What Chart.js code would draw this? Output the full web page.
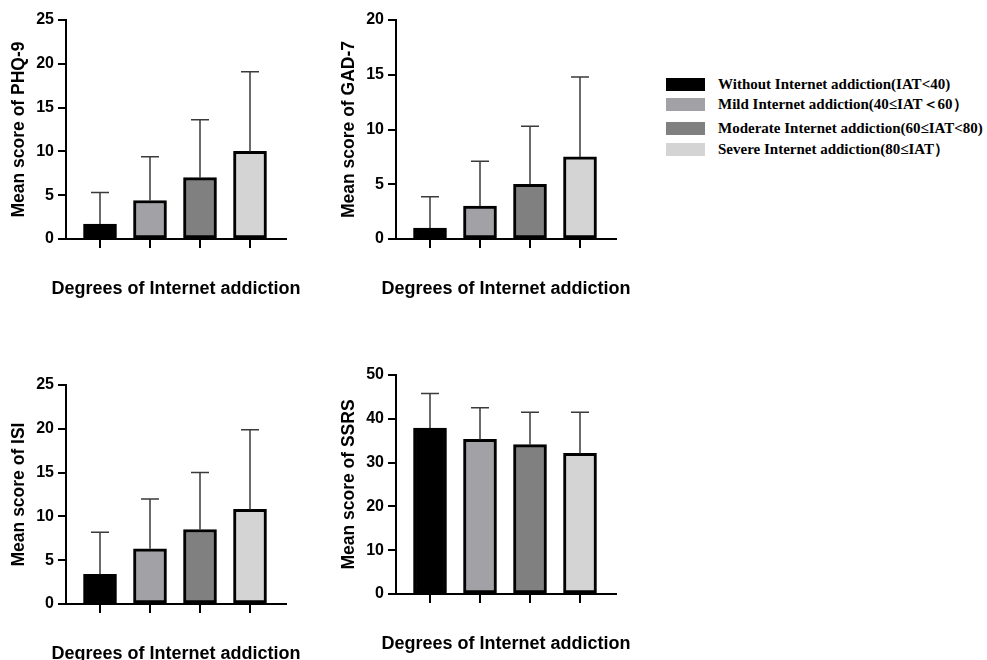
<!DOCTYPE html>
<html>
<head>
<meta charset="utf-8">
<script src="https://cdn.jsdelivr.net/npm/chart.js@4"></script>
<style>
  html, body { margin: 0; padding: 0; background: #fff; overflow: hidden; }
  body { width: 987px; height: 660px; position: relative; }
  canvas { position: absolute; }
  .legend { position: absolute; left: 666px; top: 0; font-family: "Liberation Serif", "Times New Roman", serif; font-weight: bold; font-size: 15px; color: #000; }
  .row { position: absolute; left: 0; white-space: nowrap; height: 13px; }
  .sw { position: absolute; left: 0; top: 0; width: 39px; height: 13px; }
  .txt { position: absolute; left: 52px; top: -3px; line-height: 18px; }
</style>
</head>
<body>
<canvas id="phq" width="320" height="300" style="left:0px;top:0px"></canvas>
<canvas id="gad" width="320" height="300" style="left:330px;top:0px"></canvas>
<canvas id="isi" width="320" height="300" style="left:0px;top:365px"></canvas>
<canvas id="ssrs" width="320" height="300" style="left:330px;top:355px"></canvas>
<div class="legend" id="legend"></div>
<script>
// groups
var categories = ['Without Internet addiction(IAT<40)', 'Mild Internet addiction(40≤IAT＜60）', 'Moderate Internet addiction(60≤IAT<80)', 'Severe Internet addiction(80≤IAT）']
var colores = ['#000000', '#a2a2a6', '#808080', '#d4d4d4']

// mean and SD
var phq9_mean = [1.7, 4.4, 7.0, 10.0]
var phq9_sd = [3.6, 5.0, 6.6, 9.1]
var gad7_mean = [1.0, 3.0, 5.0, 7.5]
var gad7_sd = [2.85, 4.1, 5.3, 7.3]
var isi_mean = [3.4, 6.3, 8.5, 10.8]
var isi_sd = [4.8, 5.7, 6.5, 9.1]
var ssrs_mean = [37.9, 35.3, 34.1, 32.1]
var ssrs_sd = [7.9, 7.2, 7.4, 9.4]

var xTitle = 'Degrees of Internet addiction'

Chart.defaults.font.family = '"Liberation Sans", Arial, sans-serif'
Chart.defaults.color = '#000'

// one-sided SD bars on top of each bar, plus the x title (scale title squeezes it)
var errorBars = {
    id: 'errorBars',
    afterDatasetsDraw: function(chart) {
        var ctx = chart.ctx
        var meta = chart.getDatasetMeta(0)
        var sd = chart.data.datasets[0].sd
        var y = chart.scales.y
        ctx.save()
        ctx.strokeStyle = '#3a3a3a'
        ctx.lineWidth = 1.5
        for (var i = 0; i < meta.data.length; i++) {
            var bar = meta.data[i]
            var top = y.getPixelForValue(chart.data.datasets[0].data[i].y + sd[i])
            ctx.beginPath()
            ctx.moveTo(bar.x, bar.y)
            ctx.lineTo(bar.x, top)
            ctx.moveTo(bar.x - 9, top)
            ctx.lineTo(bar.x + 9, top)
            ctx.stroke()
        }
        ctx.restore()
    },
    afterDraw: function(chart) {
        var ctx = chart.ctx
        var area = chart.chartArea
        ctx.save()
        ctx.fillStyle = '#000'
        ctx.font = 'bold 18px "Liberation Sans", Arial, sans-serif'
        ctx.textAlign = 'center'
        ctx.textBaseline = 'middle'
        ctx.fillText(xTitle, (area.left + area.right) / 2, area.bottom + 50)
        ctx.restore()
    }
}

function grafica(id, medias, sds, yLabel, yMax, yStep) {
    var puntos = []
    for (var i = 0; i < medias.length; i++) {
        puntos.push({x: i + 1, y: medias[i]})
    }
    new Chart(document.getElementById(id), {
        type: 'bar',
        data: {
            datasets: [{
                label: yLabel,
                data: puntos,
                sd: sds,
                backgroundColor: colores,
                borderColor: '#000',
                borderWidth: 3,
                borderSkipped: false,
                barThickness: 33
            }]
        },
        options: {
            responsive: false,
            animation: false,
            devicePixelRatio: 1,
            layout: { padding: { left: 0, right: 34, top: 20, bottom: 1 } },
            plugins: { legend: { display: false }, tooltip: { enabled: false } },
            scales: {
                x: {
                    type: 'linear',
                    min: 0.32,
                    max: 4.72,
                    offset: false,
                    border: { color: '#000', width: 2 },
                    grid: { offset: false, drawOnChartArea: false, drawTicks: true, tickLength: 9, color: '#000', lineWidth: 2 },
                    ticks: { stepSize: 1, includeBounds: false, callback: function() { return '' } },
                    afterFit: function(s) { s.height = 60 }
                },
                y: {
                    min: 0,
                    max: yMax,
                    border: { color: '#000', width: 2 },
                    grid: { drawOnChartArea: false, drawTicks: true, tickLength: 8, color: '#000', lineWidth: 2 },
                    ticks: { stepSize: yStep, font: { size: 16, weight: 'bold' }, padding: 4 },
                    title: { display: true, text: yLabel, font: { size: 17.5, weight: 'bold' }, padding: { top: 9, bottom: 0 } },
                    afterFit: function(s) { s.width = 66 }
                }
            }
        },
        plugins: [errorBars]
    })
}

grafica('phq', phq9_mean, phq9_sd, 'Mean score of PHQ-9', 25, 5)
grafica('gad', gad7_mean, gad7_sd, 'Mean score of GAD-7', 20, 5)
grafica('isi', isi_mean, isi_sd, 'Mean score of ISI', 25, 5)
grafica('ssrs', ssrs_mean, ssrs_sd, 'Mean score of SSRS', 50, 10)

// legend rows
var filas = [78, 98, 122, 143]
var leyenda = document.getElementById('legend')
for (var i = 0; i < categories.length; i++) {
    var row = document.createElement('div')
    row.className = 'row'
    row.style.top = filas[i] + 'px'
    var sw = document.createElement('div')
    sw.className = 'sw'
    sw.style.background = colores[i]
    var txt = document.createElement('div')
    txt.className = 'txt'
    txt.textContent = categories[i]
    row.appendChild(sw)
    row.appendChild(txt)
    leyenda.appendChild(row)
}
</script>
</body>
</html>
